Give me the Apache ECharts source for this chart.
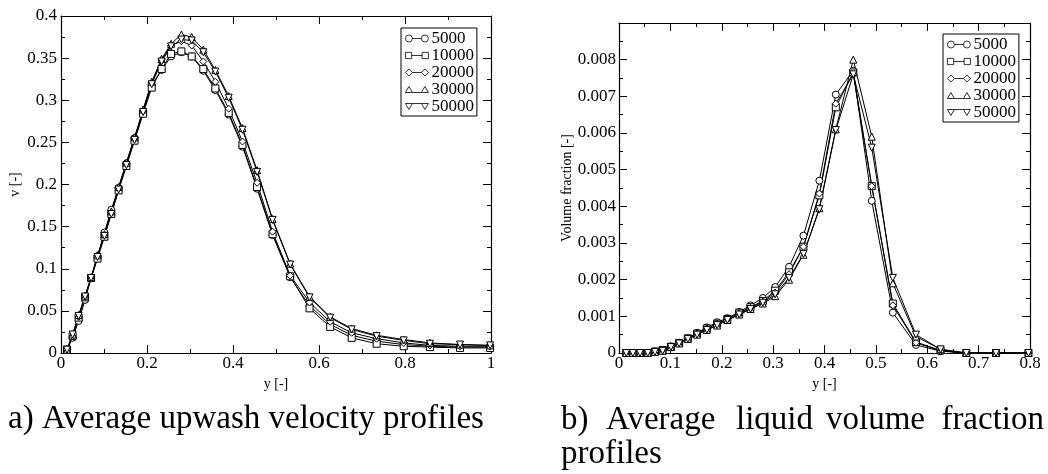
<!DOCTYPE html>
<html>
<head>
<meta charset="utf-8">
<script src="https://cdn.jsdelivr.net/npm/echarts@6/dist/echarts.min.js"></script>
<style>html,body{margin:0;padding:0;background:#fff;}#c{width:1048px;height:474px;}</style>
</head>
<body>
<div id="c"></div>
<script>
// shared wall-normal positions y [-]
const yPos = [0.014,0.027,0.041,0.056,0.070,0.085,0.101,0.117,0.134,0.152,0.171,0.191,0.211,0.234,0.256,0.280,0.304,0.331,0.359,0.390,0.422,0.456,0.492,0.533,0.578,0.626,0.676,0.734,0.797,0.858,0.928,0.998];

const seriesNames = ['5000','10000','20000','30000','50000'];

// a) average upwash velocity v [-]
const v5000  = [0.004,0.018,0.038,0.063,0.089,0.114,0.143,0.170,0.196,0.225,0.255,0.286,0.318,0.336,0.352,0.357,0.352,0.335,0.312,0.283,0.245,0.195,0.140,0.090,0.056,0.034,0.021,0.014,0.010,0.008,0.007,0.007];
const v10000 = [0.004,0.020,0.042,0.066,0.089,0.112,0.138,0.165,0.193,0.222,0.252,0.284,0.315,0.337,0.355,0.358,0.352,0.337,0.314,0.285,0.247,0.197,0.141,0.091,0.053,0.031,0.018,0.011,0.008,0.007,0.006,0.006];
const v20000 = [0.004,0.020,0.043,0.067,0.089,0.116,0.140,0.167,0.196,0.225,0.255,0.288,0.321,0.348,0.365,0.370,0.365,0.346,0.322,0.290,0.251,0.202,0.144,0.092,0.060,0.037,0.024,0.017,0.012,0.009,0.008,0.008];
const v30000 = [0.004,0.022,0.045,0.068,0.090,0.116,0.141,0.168,0.197,0.226,0.256,0.289,0.322,0.349,0.367,0.378,0.375,0.360,0.336,0.305,0.267,0.217,0.159,0.106,0.067,0.043,0.029,0.021,0.016,0.012,0.010,0.009];
const v50000 = [0.004,0.022,0.044,0.067,0.089,0.114,0.139,0.165,0.194,0.223,0.253,0.286,0.319,0.346,0.364,0.372,0.371,0.357,0.334,0.303,0.265,0.215,0.158,0.105,0.066,0.042,0.028,0.020,0.015,0.011,0.010,0.009];

// b) average liquid volume fraction [-]
const f5000  = [0,0,0,0,0.00004,0.00008,0.00018,0.00028,0.00040,0.00055,0.00070,0.00084,0.00095,0.00112,0.00130,0.00150,0.00180,0.00235,0.00320,0.00470,0.00705,0.00770,0.00415,0.00110,0.00022,0.00005,0,0,0];
const f10000 = [0,0,0,0,0.00004,0.00008,0.00017,0.00027,0.00040,0.00053,0.00067,0.00080,0.00093,0.00110,0.00125,0.00142,0.00170,0.00220,0.00290,0.00430,0.00670,0.00765,0.00455,0.00135,0.00030,0.00007,0,0,0];
const f20000 = [0,0,0,0,0.00004,0.00008,0.00017,0.00027,0.00040,0.00053,0.00067,0.00080,0.00093,0.00108,0.00123,0.00140,0.00165,0.00215,0.00290,0.00435,0.00680,0.00760,0.00455,0.00130,0.00028,0.00006,0,0,0];
const f30000 = [0,0,0,0,0.00003,0.00006,0.00016,0.00026,0.00038,0.00050,0.00063,0.00075,0.00090,0.00105,0.00120,0.00135,0.00155,0.00200,0.00268,0.00395,0.00610,0.00800,0.00590,0.00190,0.00045,0.00010,0,0,0];
const f50000 = [0,0,0,0,0.00003,0.00006,0.00016,0.00026,0.00038,0.00050,0.00063,0.00076,0.00090,0.00105,0.00120,0.00137,0.00160,0.00205,0.00270,0.00392,0.00608,0.00760,0.00560,0.00205,0.00050,0.00010,0,0,0];

const captionA = 'a) Average upwash velocity profiles';
const captionB1 = ['b)','Average','liquid','volume','fraction'];
const captionB2 = 'profiles';

const vData = [v5000, v10000, v20000, v30000, v50000];
const fData = [f5000, f10000, f20000, f30000, f50000];

const downTri = 'path://M0,0 L10,0 L5,9 Z';
const symbols = ['circle','rect','diamond','triangle',downTri];
const legendIcons = [
  'path://M0,3.5 A3.5,3.5 0 1 1 7,3.5 A3.5,3.5 0 1 1 0,3.5 Z M7,3.5 L16,3.5 M16,3.5 A3.5,3.5 0 1 1 23,3.5 A3.5,3.5 0 1 1 16,3.5 Z',
  'path://M0.5,0.5 L6.5,0.5 L6.5,6.5 L0.5,6.5 Z M6.5,3.5 L16.5,3.5 M16.5,0.5 L22.5,0.5 L22.5,6.5 L16.5,6.5 Z',
  'path://M0,3.5 L3.5,0 L7,3.5 L3.5,7 Z M7,3.5 L16,3.5 M16,3.5 L19.5,0 L23,3.5 L19.5,7 Z',
  'path://M0,6.5 L3.5,0.5 L7,6.5 Z M7,6.5 L16,6.5 M16,6.5 L19.5,0.5 L23,6.5 Z',
  'path://M0,0.5 L7,0.5 L3.5,6.5 Z M7,0.5 L16,0.5 M16,0.5 L23,0.5 L19.5,6.5 Z'
];

const FONT = 'Liberation Serif';
const fmt = v => v === 0 ? '0' : String(+v.toFixed(4));

function axisBase(extra) {
  return Object.assign({
    type: 'value',
    axisLine: { show: true, onZero: false, lineStyle: { color: '#000', width: 1.2 } },
    axisTick: { show: true, inside: true, length: 8, lineStyle: { color: '#000', width: 1 } },
    minorTick: { show: true, splitNumber: 2, length: 4, lineStyle: { color: '#000', width: 1 } },
    splitLine: { show: false },
    axisLabel: { show: true, color: '#000', fontFamily: FONT, fontSize: 17, margin: 4, formatter: fmt },
    nameTextStyle: { color: '#000', fontFamily: FONT, fontSize: 14 }
  }, extra);
}

const grids = [
  { left: 61, top: 16, width: 430, height: 337 },
  { left: 619, top: 23, width: 411, height: 330 }
];

const xAxes = [
  axisBase({ gridIndex: 0, position: 'bottom', min: 0, max: 1, interval: 0.2, name: 'y [-]', nameLocation: 'middle', nameGap: 21 }),
  axisBase({ gridIndex: 0, position: 'top', min: 0, max: 1, interval: 0.2, axisLabel: { show: false } }),
  axisBase({ gridIndex: 1, position: 'bottom', min: 0, max: 0.8, interval: 0.1, name: 'y [-]', nameLocation: 'middle', nameGap: 21 }),
  axisBase({ gridIndex: 1, position: 'top', min: 0, max: 0.8, interval: 0.1, axisLabel: { show: false } })
];
xAxes[0].axisLabel.margin = 2;
xAxes[2].axisLabel.margin = 2;

const yAxes = [
  axisBase({ gridIndex: 0, position: 'left', min: 0, max: 0.4, interval: 0.05, name: 'v [-]', nameLocation: 'middle', nameGap: 39 }),
  axisBase({ gridIndex: 0, position: 'right', min: 0, max: 0.4, interval: 0.05, axisLabel: { show: false } }),
  axisBase({ gridIndex: 1, position: 'left', min: 0, max: 0.009, interval: 0.001, name: 'Volume fraction [-]', nameLocation: 'middle', nameGap: 45 }),
  axisBase({ gridIndex: 1, position: 'right', min: 0, max: 0.009, interval: 0.001, axisLabel: { show: false } })
];
yAxes[2].axisLabel.formatter = v => v > 0.0085 ? '' : fmt(v);
yAxes[2].axisLabel.margin = 3;

const series = [];
seriesNames.forEach((nm, i) => {
  series.push({
    name: nm, type: 'line', xAxisIndex: 0, yAxisIndex: 0,
    data: yPos.map((y, k) => [y, vData[i][k]]),
    symbol: symbols[i], symbolSize: 7, showAllSymbol: true,
    lineStyle: { color: '#000', width: 1 },
    itemStyle: { color: '#fff', borderColor: '#000', borderWidth: 1 },
    animation: false
  });
});
seriesNames.forEach((nm, i) => {
  series.push({
    name: nm, type: 'line', xAxisIndex: 2, yAxisIndex: 2,
    data: fData[i].map((f, k) => [yPos[k], f]),
    symbol: symbols[i], symbolSize: 7, showAllSymbol: true,
    lineStyle: { color: '#000', width: 1 },
    itemStyle: { color: '#fff', borderColor: '#000', borderWidth: 1 },
    animation: false
  });
});

function legendAt(left, top) {
  return {
    left: left, top: top, orient: 'vertical', itemGap: 0, itemWidth: 23, itemHeight: 7,
    padding: [2, 3, 1, 4], borderColor: '#000', borderWidth: 1, backgroundColor: '#fff',
    selectedMode: false,
    itemStyle: { color: '#fff', borderColor: '#000', borderWidth: 0.8 },
    lineStyle: { color: '#000', width: 0.8 },
    textStyle: { color: '#000', fontFamily: FONT, fontSize: 17, lineHeight: 16.4, padding: [0, 0, 0, -2] },
    data: seriesNames.map((nm, i) => ({ name: nm, icon: legendIcons[i] }))
  };
}

function textEl(t, x, y, align) {
  return {
    type: 'text', z: 100,
    style: { text: t, x: x, y: y, fill: '#000', font: '33px "' + FONT + '"', verticalAlign: 'middle', align: align || 'left' }
  };
}

const bXs = [561, 606, 736, 826, 1044];
const graphics = [textEl(captionA, 8, 419)]
  .concat(captionB1.map((w, i) => textEl(w, bXs[i], 420, i === captionB1.length - 1 ? 'right' : 'left')))
  .concat([textEl(captionB2, 561, 454)]);

const chart = echarts.init(document.getElementById('c'), null, { renderer: 'canvas' });
chart.setOption({
  backgroundColor: '#fff',
  animation: false,
  grid: grids,
  xAxis: xAxes,
  yAxis: yAxes,
  legend: [legendAt(401, 28), legendAt(943, 34)],
  series: series,
  graphic: graphics
});
</script>
</body>
</html>
